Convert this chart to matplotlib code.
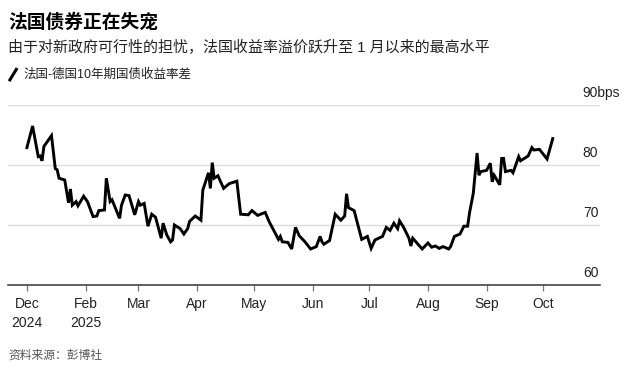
import matplotlib
matplotlib.use("Agg")
from matplotlib import pyplot as plt
from matplotlib.lines import Line2D
import pandas as pd

plt.rcParams['font.family'] = ['Liberation Sans', 'Noto Sans CJK SC', 'DejaVu Sans']

# France-Germany 10y yield spread, bps
dates = [
    "2025-01-01", "2025-01-04", "2025-01-07", "2025-01-08", "2025-01-09", "2025-01-10",
    "2025-01-14", "2025-01-16", "2025-01-17", "2025-01-18", "2025-01-21", "2025-01-23",
    "2025-01-24", "2025-01-25", "2025-01-27", "2025-01-28", "2025-01-31", "2025-02-02",
    "2025-02-05", "2025-02-07", "2025-02-08", "2025-02-11", "2025-02-12", "2025-02-14",
    "2025-02-15", "2025-02-19", "2025-02-20", "2025-02-22", "2025-02-24", "2025-02-27",
    "2025-03-01", "2025-03-02", "2025-03-04", "2025-03-06", "2025-03-08", "2025-03-10",
    "2025-03-13", "2025-03-14", "2025-03-16", "2025-03-18", "2025-03-19", "2025-03-20",
    "2025-03-23", "2025-03-25", "2025-03-27", "2025-03-28", "2025-03-31", "2025-04-03",
    "2025-04-04", "2025-04-07", "2025-04-08", "2025-04-09", "2025-04-10", "2025-04-12",
    "2025-04-15", "2025-04-18", "2025-04-22", "2025-04-24", "2025-04-28", "2025-04-30",
    "2025-05-03", "2025-05-07", "2025-05-09", "2025-05-14", "2025-05-15", "2025-05-16",
    "2025-05-19", "2025-05-21", "2025-05-23", "2025-05-25", "2025-05-28", "2025-05-29",
    "2025-05-31", "2025-06-03", "2025-06-05", "2025-06-06", "2025-06-07", "2025-06-10",
    "2025-06-13", "2025-06-16", "2025-06-18", "2025-06-19", "2025-06-20", "2025-06-23",
    "2025-06-27", "2025-06-30", "2025-07-02", "2025-07-04", "2025-07-08", "2025-07-10",
    "2025-07-12", "2025-07-14", "2025-07-16", "2025-07-17", "2025-07-19", "2025-07-22",
    "2025-07-23", "2025-07-24", "2025-07-27", "2025-07-29", "2025-08-01", "2025-08-03",
    "2025-08-05", "2025-08-07", "2025-08-09", "2025-08-12", "2025-08-13", "2025-08-15",
    "2025-08-18", "2025-08-20", "2025-08-22", "2025-08-23", "2025-08-25", "2025-08-27",
    "2025-08-28", "2025-08-29", "2025-09-01", "2025-09-03", "2025-09-04", "2025-09-05",
    "2025-09-08", "2025-09-09", "2025-09-10", "2025-09-11", "2025-09-14", "2025-09-15",
    "2025-09-18", "2025-09-19", "2025-09-23", "2025-09-25", "2025-09-26", "2025-09-29",
    "2025-10-01", "2025-10-03", "2025-10-06",
]
spread = [
    82.9, 86.5, 81.4, 81.5, 80.7, 83.1,
    84.9, 79.4, 79.2, 77.8, 77.5, 73.7,
    76.0, 73.3, 73.9, 73.2, 74.8, 73.9,
    71.4, 71.5, 72.4, 72.5, 77.8, 73.9,
    74.2, 71.1, 73.3, 75.0, 74.9, 71.7,
    73.9, 73.3, 73.6, 69.8, 71.8, 71.3,
    67.8, 70.3, 68.3, 67.2, 67.5, 70.0,
    69.4, 68.5, 69.4, 70.6, 71.5, 70.8,
    75.8, 78.7, 76.1, 80.4, 77.8, 78.2,
    76.1, 76.9, 77.3, 71.8, 71.7, 72.4,
    71.6, 72.1, 70.6, 67.6, 68.1, 67.2,
    67.1, 66.0, 69.6, 68.2, 67.2, 66.8,
    66.0, 66.4, 68.1, 67.2, 66.8, 67.4,
    71.8, 70.8, 71.5, 75.2, 72.9, 72.4,
    67.6, 68.1, 66.1, 67.5, 68.1, 69.6,
    69.1, 70.3, 69.4, 70.7, 69.7, 67.8,
    66.5, 67.8, 66.7, 66.0, 67.0, 66.3,
    66.5, 66.1, 66.4, 66.0, 66.4, 68.1,
    68.5, 69.8, 69.8, 72.0, 75.3, 82.0,
    78.3, 78.9, 79.1, 80.3, 77.2, 78.3,
    76.7, 81.1, 81.1, 78.9, 79.1, 78.7,
    81.4, 80.7, 81.5, 82.9, 82.5, 82.6,
    81.8, 81.0, 84.4,
]

tick_dates = ["2025-01-01", "2025-02-01", "2025-03-01", "2025-04-01", "2025-05-01",
              "2025-06-01", "2025-07-01", "2025-08-01", "2025-09-01", "2025-10-01"]
tick_labels = ["Dec\n2024", "Feb\n2025", "Mar", "Apr", "May", "Jun", "Jul", "Aug", "Sep", "Oct"]
y_levels = [60, 70, 80, 90]
y_labels = ["60", "70", "80", "90bps"]

x = pd.to_datetime(dates)

fig = plt.figure(figsize=(6.39, 3.75), dpi=100)
ax = fig.add_axes([0.0125, 0.24, 0.9265, 0.48])

for lv in y_levels[1:]:
    ax.axhline(lv, color='#dcdcdc', lw=1.0, zorder=1)

ax.plot(x, spread, color='black', lw=2.1, solid_joinstyle='miter', zorder=3)

ax.set_ylim(60, 90)
ax.set_xlim(pd.Timestamp("2024-12-22"), pd.Timestamp("2025-10-31"))

for lv, lab in zip(y_levels, y_labels):
    ax.text(0.971, lv + 1.3, lab, transform=ax.get_yaxis_transform(),
            ha='left', va='baseline', fontsize=10, color='#222222')

ax.set_xticks(pd.to_datetime(tick_dates))
ax.set_xticklabels(tick_labels, fontsize=10, color='#222222', linespacing=1.45)
ax.tick_params(axis='x', length=4.5, width=0.9, color='#777777', pad=4)
ax.set_yticks([])

for side in ['top', 'right', 'left']:
    ax.spines[side].set_visible(False)
ax.spines['bottom'].set_color('#333333')
ax.spines['bottom'].set_linewidth(1.1)

fig.text(0.0125, 0.939, "法国债券正在失宠", fontsize=13.5, fontweight='bold',
         va='center', ha='left', color='black')
fig.text(0.0125, 0.873, "由于对新政府可行性的担忧，法国收益率溢价跃升至 1 月以来的最高水平",
         fontsize=10.8, va='center', ha='left', color='#222222')
fig.add_artist(Line2D([0.0155, 0.0255], [0.787, 0.815], color='black', lw=2.2,
                      transform=fig.transFigure))
fig.text(0.036, 0.800, "法国-德国10年期国债收益率差", fontsize=9,
         va='center', ha='left', color='#222222')
fig.text(0.0125, 0.051, "资料来源：彭博社", fontsize=8.5, va='center', ha='left', color='#555555')

fig.savefig("out.png", dpi=100)
